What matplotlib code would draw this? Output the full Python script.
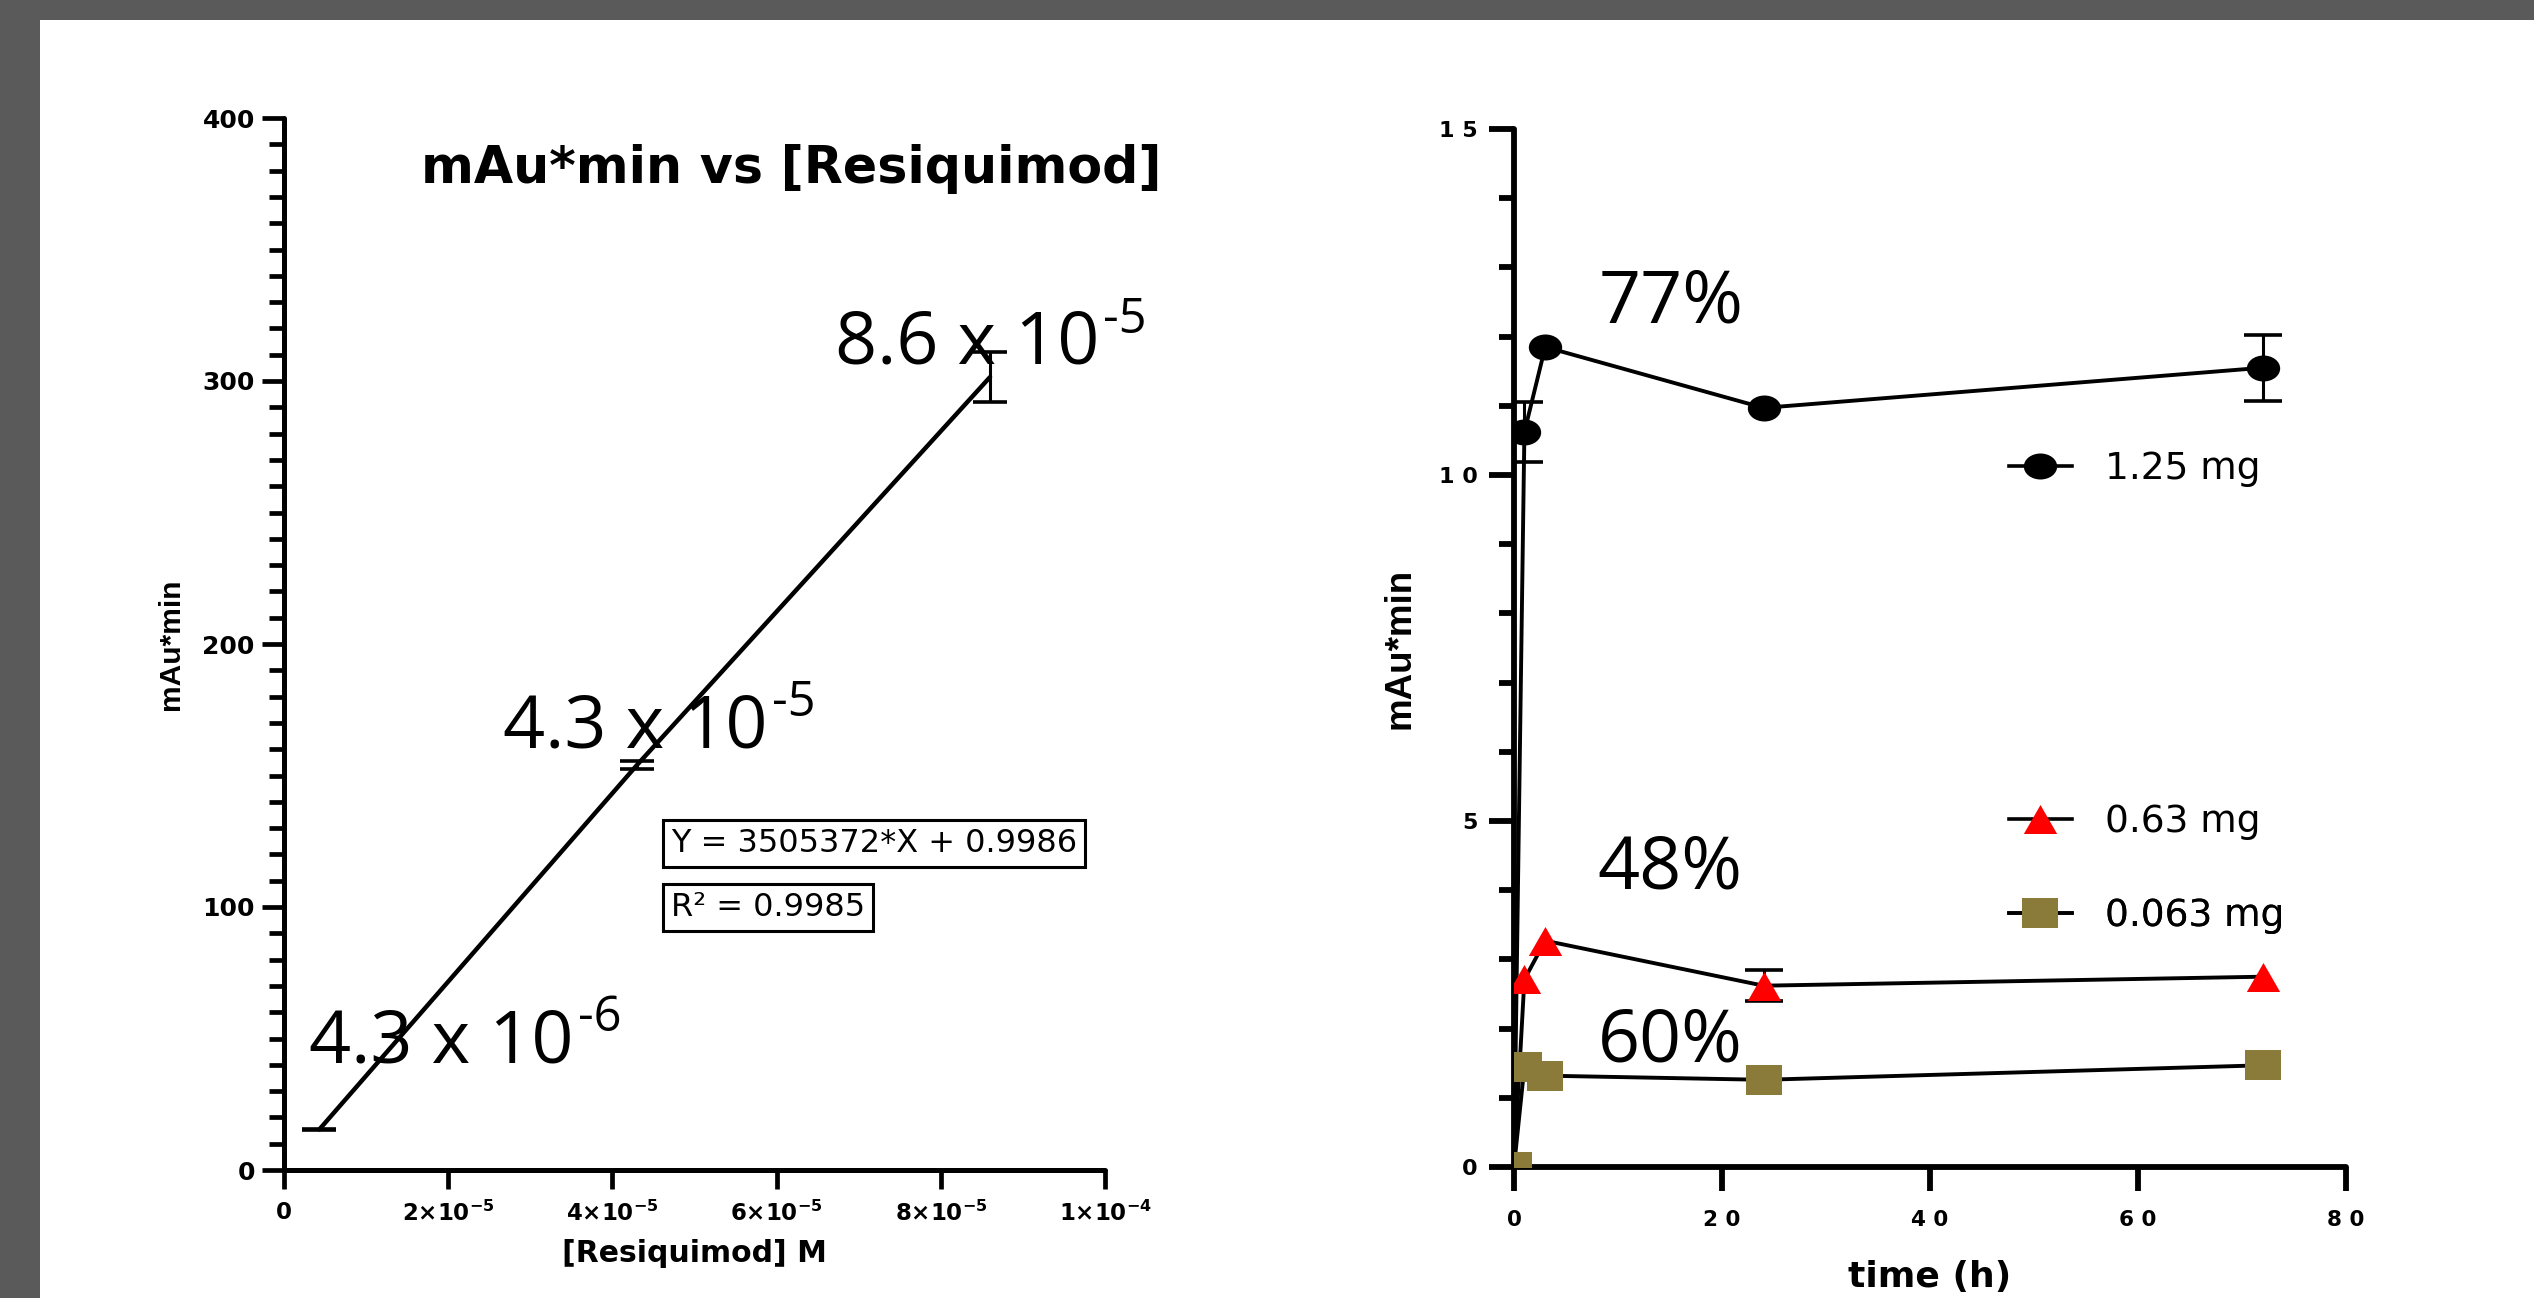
import numpy as np
import matplotlib
matplotlib.use('Agg')
import matplotlib.pyplot as plt
from matplotlib.path import Path
from matplotlib.patches import Rectangle
from matplotlib.lines import Line2D
from matplotlib.ticker import MultipleLocator, FixedLocator

plt.rcParams['font.family'] = ['DejaVu Sans']
plt.rcParams['mathtext.fontset'] = 'dejavusans'

# ---------------- left panel: calibration ----------------
conc_M = [4.3e-6, 4.3e-5, 8.6e-5]
peak_area = [15.4, 154.0, 301.5]
peak_area_err = [0.3, 1.5, 9.5]
conc_text = ['4.3 x 10', '4.3 x 10', '8.6 x 10']
conc_text_exp = ['-6', '-5', '-5']
left_xticks = [0, 2e-5, 4e-5, 6e-5, 8e-5, 1e-4]
left_xticklabels = ['0', r'$\mathbf{2{\times}10^{-5}}$', r'$\mathbf{4{\times}10^{-5}}$',
                    r'$\mathbf{6{\times}10^{-5}}$', r'$\mathbf{8{\times}10^{-5}}$',
                    r'$\mathbf{1{\times}10^{-4}}$']
left_yticks = [0, 100, 200, 300, 400]
left_yticklabels = ['0', '100', '200', '300', '400']
fit_equation = 'Y = 3505372*X + 0.9986'
fit_r2 = 'R² = 0.9985'
left_title = 'mAu*min vs [Resiquimod]'

# ---------------- right panel: release over time ----------------
time_h = [0, 1, 3, 24, 72]
area_125mg = [0, 10.62, 11.85, 10.97, 11.55]
err_125mg = [0, 0.43, 0, 0, 0.48]
area_063mg = [0, 2.71, 3.27, 2.62, 2.75]
err_063mg = [0, 0, 0, 0.22, 0]
area_0063mg = [0, 1.45, 1.32, 1.26, 1.47]
err_0063mg = [0, 0, 0, 0, 0]
series_labels = ['1.25 mg', '0.63 mg', '0.063 mg']
pct_labels = ['77%', '48%', '60%']
right_xticks = [0, 20, 40, 60, 80]
right_xticklabels = ['0', '2 0', '4 0', '6 0', '8 0']
right_yticks = [0, 5, 10, 15]
right_yticklabels = ['0', '5', '1 0', '1 5']

OLIVE = '#8A7B3A'
RED = '#FF0000'

# custom (horizontally stretched) markers
_uc = Path.unit_circle()
ellipse_m = Path(_uc.vertices * np.array([1.0, 0.78]), _uc.codes)
tri_m = Path([(0, 0.87), (-1, -0.87), (1, -0.87), (0, 0.87)],
             [Path.MOVETO, Path.LINETO, Path.LINETO, Path.CLOSEPOLY])
rect_m = Path([(-1, -0.8), (1, -0.8), (1, 0.8), (-1, 0.8), (-1, -0.8)],
              [Path.MOVETO, Path.LINETO, Path.LINETO, Path.LINETO, Path.CLOSEPOLY])

W, H = 2534, 1298
fig = plt.figure(figsize=(W / 100, H / 100), dpi=100)
fig.patch.set_facecolor('white')
GRAY = '#5a5a5a'
fig.add_artist(Rectangle((0, 1 - 20 / H), 1, 20 / H, transform=fig.transFigure,
                         facecolor=GRAY, edgecolor='none', zorder=-5))
fig.add_artist(Rectangle((0, 0), 40 / W, 1, transform=fig.transFigure,
                         facecolor=GRAY, edgecolor='none', zorder=-5))

NARROW = ['Liberation Sans', 'DejaVu Sans']
CAL = ['Open Sans', 'DejaVu Sans']

# =========================== left axes ===========================
ax1 = fig.add_axes([284 / W, 1 - 1170 / H, (1105 - 284) / W, (1170 - 118) / H])
ax1.plot(conc_M, peak_area, color='black', lw=3.2, solid_capstyle='round', zorder=3)
ax1.errorbar(conc_M, peak_area, yerr=peak_area_err, fmt='none', ecolor='black',
             elinewidth=2.2, capsize=12.5, capthick=2.6, zorder=3)
ax1.set_xlim(0, 1e-4)
ax1.set_ylim(0, 400)
for s in ['top', 'right']:
    ax1.spines[s].set_visible(False)
for s in ['left', 'bottom']:
    ax1.spines[s].set_linewidth(3.6)
    ax1.spines[s].set_capstyle('round')
ax1.xaxis.set_major_locator(FixedLocator(left_xticks))
ax1.set_xticklabels(left_xticklabels, fontweight='bold', fontsize=16.5)
ax1.yaxis.set_major_locator(FixedLocator(left_yticks))
ax1.set_yticklabels(left_yticklabels, fontweight='bold', fontsize=18)
ax1.yaxis.set_minor_locator(MultipleLocator(10))
ax1.tick_params(axis='y', which='major', length=16, width=3.4, pad=5)
ax1.tick_params(axis='y', which='minor', length=11, width=3.4)
ax1.tick_params(axis='x', which='major', length=14, width=3.4, pad=8)
ax1.set_xlabel('[Resiquimod] M', fontsize=21.5, fontweight='bold', va='center')
ax1.xaxis.set_label_coords(0.5, -0.0798)
ax1.set_ylabel('mAu*min', fontsize=21.5, fontweight='bold', family=NARROW, va='center')
ax1.yaxis.set_label_coords(-0.1376, 0.5)
ax1.set_title(left_title, fontsize=36.5, fontweight='bold', x=0.618, y=0.938, pad=0)

ann_pos_left = [(0.305e-5, 41.0), (2.67e-5, 160.8), (6.71e-5, 306.5)]
for (tx, ty), main, ex in zip(ann_pos_left, conc_text, conc_text_exp):
    t = ax1.text(tx, ty, main, fontsize=53, family=CAL, ha='left', va='baseline', zorder=4)
    ax1.annotate(ex, xy=(1, 1), xycoords=t, xytext=(3, 9), textcoords='offset points',
                 fontsize=35, family=CAL, ha='left', va='top', zorder=4)

box_kw = dict(boxstyle='square,pad=0.25', facecolor='white', edgecolor='black', linewidth=2.2)
ax1.text(4.71e-5, 124.1, fit_equation, fontsize=23, ha='left', va='center', bbox=box_kw, zorder=5)
ax1.text(4.71e-5, 99.8, fit_r2, fontsize=23, ha='left', va='center', bbox=box_kw, zorder=5)

# =========================== right axes ===========================
ax2 = fig.add_axes([1514 / W, 1 - 1167 / H, (2346 - 1514) / W, (1167 - 129) / H])
series = [
    (area_125mg, err_125mg, ellipse_m, 24.0, 'black'),
    (area_063mg, err_063mg, tri_m, 24.0, RED),
    (area_0063mg, err_0063mg, rect_m, 26.5, OLIVE),
]
handles = []
for (vals, errs, mk, ms, col), lab in zip(series, series_labels):
    ax2.plot(time_h, vals, color='black', lw=2.8, marker=mk, markersize=ms,
             markerfacecolor=col, markeredgecolor=col, markeredgewidth=0, zorder=3)
    idx = [i for i, e in enumerate(errs) if e > 0]
    if idx:
        ax2.errorbar([time_h[i] for i in idx], [vals[i] for i in idx],
                     yerr=[errs[i] for i in idx], fmt='none', ecolor='black',
                     elinewidth=2.2, capsize=14, capthick=2.6, zorder=2.5)
    handles.append(Line2D([], [], color='black', lw=2.6, marker=mk, markersize=ms,
                          markerfacecolor=col, markeredgecolor=col, markeredgewidth=0,
                          label=lab))

ax2.set_xlim(0, 80)
ax2.set_ylim(0, 15)
for s in ['top', 'right']:
    ax2.spines[s].set_visible(False)
for s in ['left', 'bottom']:
    ax2.spines[s].set_linewidth(4.2)
    ax2.spines[s].set_capstyle('round')
ax2.xaxis.set_major_locator(FixedLocator(right_xticks))
ax2.set_xticklabels(right_xticklabels, fontweight='bold', fontsize=15.5)
ax2.yaxis.set_major_locator(FixedLocator(right_yticks))
ax2.set_yticklabels(right_yticklabels, fontweight='bold', fontsize=16)
ax2.yaxis.set_minor_locator(MultipleLocator(1))
ax2.tick_params(axis='y', which='major', length=18, width=4.2, pad=8)
ax2.tick_params(axis='y', which='minor', length=11, width=4.2)
ax2.tick_params(axis='x', which='major', length=17, width=4.2, pad=14)
ax2.set_xlabel('time (h)', fontsize=26, fontweight='bold', va='center')
ax2.xaxis.set_label_coords(0.5, -0.106)
ax2.set_ylabel('mAu*min', fontsize=26.5, fontweight='bold', family=NARROW, va='center')
ax2.yaxis.set_label_coords(-0.137, 0.5)

pct_pos = [(8.1, 12.21), (8.0, 4.02), (8.05, 1.53)]
for (tx, ty), lab in zip(pct_pos, pct_labels):
    ax2.text(tx, ty, lab, fontsize=53, family=CAL, ha='left', va='baseline', zorder=4)

leg_y = [0.6724, 0.3324, 0.2418]
for h, ly in zip(handles, leg_y):
    lg = ax2.legend(handles=[h], loc='center left', bbox_to_anchor=(0.595, ly),
                    bbox_transform=ax2.transAxes, frameon=False, borderpad=0,
                    borderaxespad=0, handlelength=1.67, handletextpad=0.9,
                    numpoints=1, fontsize=27)
    ax2.add_artist(lg)

fig.savefig('out.png', dpi=100, facecolor='white')
